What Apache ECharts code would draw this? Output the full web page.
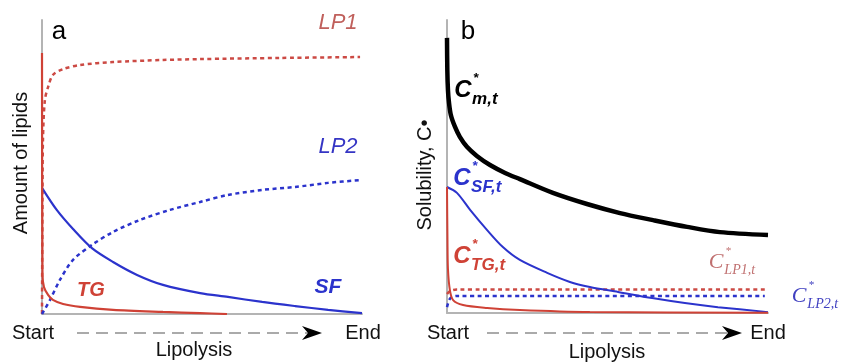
<!DOCTYPE html>
<html>
<head>
<meta charset="utf-8">
<script src="https://cdn.jsdelivr.net/npm/echarts@6/dist/echarts.min.js"></script>
<style>
  html, body { margin: 0; padding: 0; background: #fff; }
  #main { width: 847px; height: 364px; }
</style>
</head>
<body>
<div id="main"></div>
<script>
// panel a: amount of lipids (x: 0..100 lipolysis progress, y: 0..100)
let tgX  = [0, 0.15, 0.6, 1.9, 3.4, 6.6, 11.9, 22.2, 37.8, 49.4, 57.8];
let tgY  = [88.8, 13.3, 9.2, 6.5, 4.8, 3.4, 2.4, 1.4, 0.7, 0.3, 0];
let lp1X = [0, 0.15, 0.3, 0.9, 1.9, 3.4, 6.6, 11.9, 22.2, 37.8, 49.4, 74.4, 99.4];
let lp1Y = [0, 38.8, 59.2, 72.8, 77.2, 81.3, 83.3, 84.7, 85.7, 86.4, 86.7, 87.1, 87.4];
let sfX  = [0, 4.6, 9.7, 15.6, 22.2, 29.7, 37.8, 49.4, 58.1, 68.8, 79.1, 89.4, 100];
let sfY  = [42.9, 35.4, 28.9, 22.4, 17.7, 13.3, 9.9, 7.1, 5.8, 4.1, 2.7, 1.4, 0.3];
let lp2X = [0, 2.5, 5.6, 9.7, 15.6, 22.2, 30.6, 40, 49.4, 58.1, 68.8, 79.1, 89.4, 100];
let lp2Y = [0, 4.8, 11.6, 18.4, 23.5, 27.9, 32.0, 35.4, 38.1, 40.5, 42.2, 43.2, 44.6, 45.6];

// panel b: solubility
let cmX   = [0, 0.1, 0.3, 0.6, 1.2, 2.5, 4.0, 6.2, 9.3, 13.4, 18.1, 22.7, 33, 43.6, 53.9, 64.2, 74.8, 85, 100];
let cmY   = [93.9, 82.9, 76.1, 72.0, 67.6, 63.5, 60.1, 56.7, 53.6, 50.5, 47.8, 45.7, 41, 37.2, 34.1, 31.7, 29.4, 27.6, 26.6];
let csfX  = [0, 3.1, 7.2, 12.5, 17.4, 22.7, 31.2, 38.3, 44.5, 53.3, 63.9, 74.1, 84.4, 100];
let csfY  = [43, 41, 35.2, 28.3, 22.5, 18.1, 13.7, 10.6, 8.9, 7.2, 5.1, 3.4, 2, 0.3];
let ctgX  = [0, 0.15, 0.3, 0.9, 1.9, 5.0, 12.5, 22.7, 44.5, 100];
let ctgY  = [43, 25, 15, 7.8, 4.4, 2.7, 1.7, 1.0, 0.3, 0.1];
let clp1X = [0, 1, 3, 99];
let clp1Y = [6.5, 7.5, 8.0, 8.0];
let clp2X = [0, 1, 3, 99];
let clp2Y = [2.0, 5.0, 5.8, 5.8];

function zip(xs, ys) {
    let out = [];
    for (let i = 0; i < xs.length; i++) {
        out.push([xs[i], ys[i]]);
    }
    return out;
}

const RED = '#cf4236';
const BLUE = '#2b33cc';
const GRAY = '#b4b4b4';
const SANS = '"Liberation Sans", Arial, sans-serif';
const SERIF = '"Liberation Serif", "DejaVu Serif", serif';

let axisStyle = {
    show: true,
    onZero: false,
    lineStyle: { color: GRAY, width: 2 }
};

function makeAxis(idx) {
    return {
        type: 'value', gridIndex: idx, min: 0, max: 100,
        axisLine: axisStyle, axisTick: { show: false },
        axisLabel: { show: false }, splitLine: { show: false }
    };
}

function line(idx, data, color, width, dotted) {
    return {
        type: 'line', xAxisIndex: idx, yAxisIndex: idx,
        data: data, symbol: 'none', silent: true,
        smooth: 0.3,
        lineStyle: {
            color: color, width: width,
            type: dotted ? [4, 3.5] : 'solid',
            cap: 'butt'
        }
    };
}

function txt(x, y, text, size, color, opts) {
    opts = opts || {};
    return {
        type: 'text', x: x, y: y, rotation: opts.rotation || 0,
        style: {
            text: text,
            font: (opts.style || '') + ' ' + (opts.weight || 'normal') + ' ' + size + 'px ' + (opts.family || SANS),
            fill: color,
            textAlign: opts.align || 'center',
            textVerticalAlign: 'middle'
        }
    };
}

// C* with stacked superscript star and subscript
function cLabel(x, y, sub, color, size, subSize, family, weight) {
    return [
        txt(x, y, 'C', size, color, { style: 'italic', weight: weight, family: family }),
        txt(x + size * 0.42, y - size * 0.5, '*', subSize * 0.8, color, { style: 'italic', weight: weight, family: family, align: 'left' }),
        txt(x + size * 0.38, y + size * 0.38, sub, subSize, color, { style: 'italic', weight: weight, family: family, align: 'left' })
    ];
}

function arrow(x0, x1, y) {
    return [
        {
            type: 'line', shape: { x1: x0, y1: y, x2: x1 - 4, y2: y },
            style: { stroke: '#aaaaaa', lineWidth: 2, lineDash: [12, 7] }
        },
        {
            type: 'polygon',
            shape: { points: [[x1 - 20, y - 7], [x1, y], [x1 - 20, y + 7], [x1 - 14, y]] },
            style: { fill: '#000' }
        }
    ];
}

let graphics = [
    // panel a
    txt(59, 32, 'a', 26, '#000'),
    txt(338, 23, 'LP1', 22, '#c0605c', { style: 'italic' }),
    txt(338, 147, 'LP2', 22, '#3535c4', { style: 'italic' }),
    txt(91, 290, 'TG', 20, RED, { style: 'italic', weight: 'bold' }),
    txt(328, 287, 'SF', 21, BLUE, { style: 'italic', weight: 'bold' }),
    txt(21, 163, 'Amount of lipids', 20, '#111', { rotation: Math.PI / 2 }),
    txt(33, 333, 'Start', 20, '#111'),
    txt(363, 333, 'End', 20, '#111'),
    txt(194, 350, 'Lipolysis', 20, '#111'),
    // panel b
    txt(468, 32, 'b', 26, '#000'),
    txt(425, 175, 'Solubility, C•', 20, '#111', { rotation: Math.PI / 2 }),
    txt(448, 333, 'Start', 20, '#111'),
    txt(768, 333, 'End', 20, '#111'),
    txt(607, 352, 'Lipolysis', 20, '#111')
];
graphics = graphics.concat(arrow(77, 322, 333), arrow(487, 742, 333));
graphics = graphics.concat(cLabel(463, 90, 'm,t', '#000', 24, 17, SANS, 'bold'));
graphics = graphics.concat(cLabel(462, 178, 'SF,t', BLUE, 24, 17, SANS, 'bold'));
graphics = graphics.concat(cLabel(462, 256, 'TG,t', RED, 24, 17, SANS, 'bold'));
graphics = graphics.concat(cLabel(716, 262, 'LP1,t', '#c07070', 22, 14, SERIF, 'normal'));
graphics = graphics.concat(cLabel(799, 296, 'LP2,t', '#4040c0', 22, 14, SERIF, 'normal'));

option = {
    animation: false,
    backgroundColor: '#fff',
    grid: [
        { left: 42, top: 20, width: 320, height: 294 },
        { left: 447, top: 20, width: 321, height: 293 }
    ],
    xAxis: [makeAxis(0), makeAxis(1)],
    yAxis: [makeAxis(0), makeAxis(1)],
    series: [
        line(0, zip(lp1X, lp1Y), '#cc4a44', 2.5, true),
        line(0, zip(lp2X, lp2Y), BLUE, 2.5, true),
        line(0, zip(sfX, sfY), BLUE, 2.2, false),
        line(0, zip(tgX, tgY), RED, 2.2, false),
        line(1, zip(clp1X, clp1Y), '#cc4a44', 2.5, true),
        line(1, zip(clp2X, clp2Y), BLUE, 2.5, true),
        line(1, zip(csfX, csfY), BLUE, 2, false),
        line(1, zip(ctgX, ctgY), RED, 2, false),
        line(1, zip(cmX, cmY), '#000', 4.5, false)
    ],
    graphic: graphics
};

let myChart = echarts.init(document.getElementById('main'));
myChart.setOption(option);
</script>
</body>
</html>
